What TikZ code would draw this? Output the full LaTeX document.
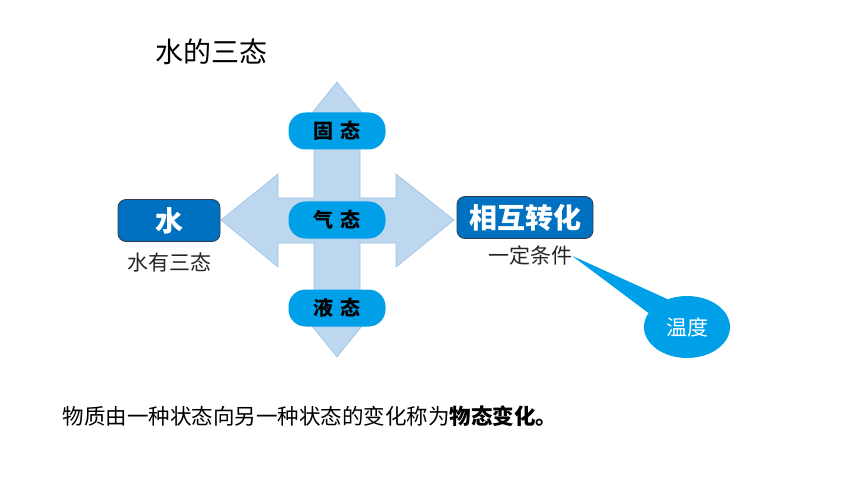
\documentclass[tikz,border=0pt]{standalone}
\usepackage{fontspec}
\setmainfont{Noto Sans CJK SC}
\usepackage{tikz}
\usetikzlibrary{positioning,shapes.geometric}

\definecolor{boxblue}{RGB}{0,112,192}
\definecolor{pillblue}{RGB}{0,160,233}
\definecolor{arrowfill}{RGB}{189,215,238}
\definecolor{arrowline}{RGB}{155,194,230}
\definecolor{edgegray}{RGB}{50,60,75}

\begin{document}
\begin{tikzpicture}[x=1pt,y=-1pt,
	state/.style={shape=rectangle,rounded corners=17pt,fill=pillblue,minimum width=97pt,minimum height=37pt,inner sep=0pt,font=\fontsize{20}{22}\selectfont\bfseries},
	head/.style={shape=rectangle,rounded corners=8pt,draw=edgegray,line width=0.8pt,fill=boxblue,text=white,minimum height=42pt,inner sep=0pt,font=\fontsize{28}{30}\selectfont\bfseries},
	note/.style={inner sep=0pt,font=\fontsize{21}{23}\selectfont\color{black!85}}]
	\useasboundingbox (0,0) rectangle (860,484);
	% cross arrow
	\filldraw[fill=arrowfill,draw=arrowline,line width=0.6pt]
		(337,82) -- (383,139) -- (360,139) -- (360,198) -- (396,198) -- (396,174) -- (454,220)
		-- (396,267) -- (396,243) -- (360,243) -- (360,300) -- (383,300) -- (337,357)
		-- (291,300) -- (314,300) -- (314,243) -- (278,243) -- (278,267) -- (221,220)
		-- (278,174) -- (278,198) -- (314,198) -- (314,139) -- (291,139) -- cycle;
	\path (337,131) node (solid) [state] {固\hspace{7pt}态}
		  (337,220) node (gas) [state] {气\hspace{7pt}态}
		  (337,308) node (liquid) [state] {液\hspace{7pt}态}
		  (169,220.5) node (water) [head,minimum width=102pt] {水}
		  (525,217.5) node (change) [head,minimum width=136pt] {相互转化}
		  (687,327) node (temp) [shape=ellipse,fill=pillblue,minimum width=86pt,minimum height=62pt,inner sep=0pt,text=white,font=\fontsize{21}{23}\selectfont] {温度};
	\node (states) [note,below=11pt of water] {水有三态};
	\node (cond) [note,below=7pt of change,xshift=5pt] {一定条件};
	\fill[pillblue] (cond.east) -- (temp.160) -- (temp.125) -- cycle;
	\node (title) at (211,52) [font=\fontsize{28}{30}\selectfont] {水的三态};
	\node (rule) at (59,416) [anchor=west,font=\fontsize{21.5}{24}\selectfont] {物质由一种状态向另一种状态的变化称为\textbf{物态变化。}};
\end{tikzpicture}
\end{document}
